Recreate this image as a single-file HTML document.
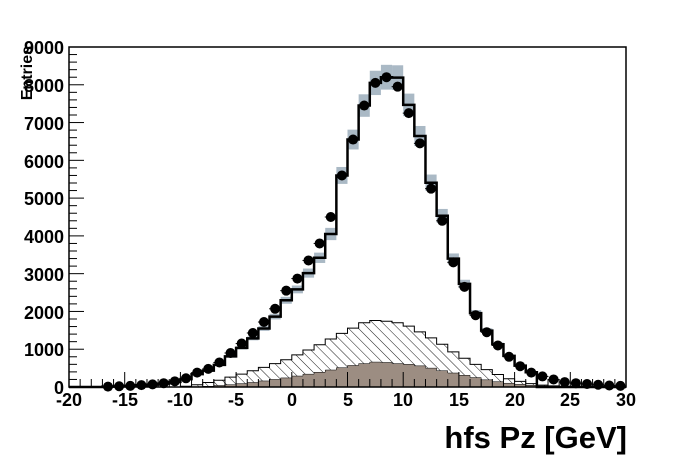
<!DOCTYPE html>
<html><head><meta charset="utf-8"><style>
body{margin:0;background:#fff;width:696px;height:472px;overflow:hidden}
svg{position:absolute;left:0;top:0}
text{font-family:"Liberation Sans",Arial,sans-serif;font-weight:bold;fill:#000}
</style></head><body>
<svg id="s" width="696" height="472" xmlns="http://www.w3.org/2000/svg">
<defs><pattern id="h" patternUnits="userSpaceOnUse" width="7" height="7" patternTransform="rotate(-45)"><line x1="0" y1="0" x2="0" y2="7" stroke="#000" stroke-width="0.9"/></pattern></defs>
<g id="g"></g>
<g font-size="18" text-anchor="end">
<text x="64" y="54">9000</text><text x="64" y="92">8000</text><text x="64" y="130">7000</text><text x="64" y="168">6000</text><text x="64" y="205">5000</text><text x="64" y="243">4000</text><text x="64" y="281">3000</text><text x="64" y="319">2000</text><text x="64" y="356">1000</text><text x="64" y="394">0</text>
</g>
<g font-size="18" text-anchor="middle">
<text x="69" y="406">-20</text><text x="125" y="406">-15</text><text x="180" y="406">-10</text><text x="236" y="406">-5</text><text x="292" y="406">0</text><text x="348" y="406">5</text><text x="403" y="406">10</text><text x="459" y="406">15</text><text x="515" y="406">20</text><text x="570" y="406">25</text><text x="626" y="406">30</text>
</g>
<text x="627" y="448" font-size="31" text-anchor="end">hfs Pz [GeV]</text>
<text transform="translate(32,46) rotate(-90)" font-size="16" text-anchor="end">Entries</text>
</svg>
<script>
var L=69,R=626,B=387,T=47,sx=(R-L)/50,sy=(B-T)/9000;
function X(v){return L+(v+20)*sx}function Y(v){return B-v*sy}
var d={"-16.5":10,"-15.5":20,"-14.5":30,"-13.5":50,"-12.5":70,"-11.5":100,"-10.5":150,"-9.5":230,"-8.5":380,"-7.5":480,"-6.5":650,"-5.5":900,"-4.5":1150,"-3.5":1430,"-2.5":1720,"-1.5":2070,"-0.5":2550,"0.5":2870,"1.5":3350,"2.5":3800,"3.5":4500,"4.5":5600,"5.5":6550,"6.5":7450,"7.5":8050,"8.5":8200,"9.5":7950,"10.5":7250,"11.5":6450,"12.5":5250,"13.5":4400,"14.5":3300,"15.5":2650,"16.5":1900,"17.5":1450,"18.5":1100,"19.5":800,"20.5":550,"21.5":380,"22.5":280,"23.5":200,"24.5":130,"25.5":100,"26.5":80,"27.5":60,"28.5":40,"29.5":30};
var hat=[20,60,120,180,260,340,430,520,620,720,850,980,1120,1270,1420,1560,1700,1760,1740,1700,1610,1460,1300,1130,930,760,600,460,330,220,150,90,50,30,15];
var br=[0,10,20,40,60,90,120,160,200,240,290,340,390,450,510,570,620,660,650,620,600,560,500,430,370,310,250,190,140,100,70,45,25,12,0];
var s="";
function step(arr,start){var p="M"+X(start)+","+B;for(var i=0;i<arr.length;i++){var x0=X(start+i),x1=X(start+i+1),y=Y(arr[i]);p+=" L"+x0+","+y+" L"+x1+","+y;}p+=" L"+X(start+arr.length)+","+B+" Z";return p;}
s+='<path d="'+step(hat,-10)+'" fill="url(#h)" stroke="#000" stroke-width="1"/>';
s+='<path d="'+step(br,-10)+'" fill="#9c8d82" stroke="#000" stroke-width="0.5"/>';
var mc=[];for(var b=-20;b<30;b++){var k=(b+0.5).toFixed(1);var v=d[k]||0;var f=b<4?0.9:(b<9?1.0:1.03);if(b>=22)v=0;mc.push(v*f);}
for(var i=0;i<50;i++){var v=mc[i];if(v<=0)continue;var e=Math.max(0.04*v,25);s+='<rect x="'+X(-20+i)+'" y="'+Y(v+e)+'" width="'+sx+'" height="'+(2*e*sy)+'" fill="#aab9c5"/>';}
var p="M"+L+","+B;for(var i=0;i<50;i++){var y=Y(mc[i]);p+=" L"+X(-20+i)+","+y+" L"+X(-19+i)+","+y;}
s+='<path d="'+p+'" fill="none" stroke="#000" stroke-width="2.5"/>';
for(var k in d){var x=X(parseFloat(k)),y=Y(d[k]);s+='<line x1="'+(x-6)+'" y1="'+y+'" x2="'+(x+6)+'" y2="'+y+'" stroke="#000"/><circle cx="'+x+'" cy="'+y+'" r="5" fill="#000"/>';}
s+='<rect x="'+L+'" y="'+T+'" width="'+(R-L)+'" height="'+(B-T)+'" fill="none" stroke="#000" stroke-width="1.5"/>';
for(var i=0;i<=45;i++){var y=B-i*200*sy;var len=i%5==0?15:8;s+='<line x1="'+L+'" y1="'+y+'" x2="'+(L+len)+'" y2="'+y+'" stroke="#000"/>';}
for(var i=0;i<=50;i++){var x=L+i*sx;var len=i%5==0?15:8;s+='<line x1="'+x+'" y1="'+B+'" x2="'+x+'" y2="'+(B-len)+'" stroke="#000"/>';}
document.getElementById("g").innerHTML=s;
</script>
</body></html>
